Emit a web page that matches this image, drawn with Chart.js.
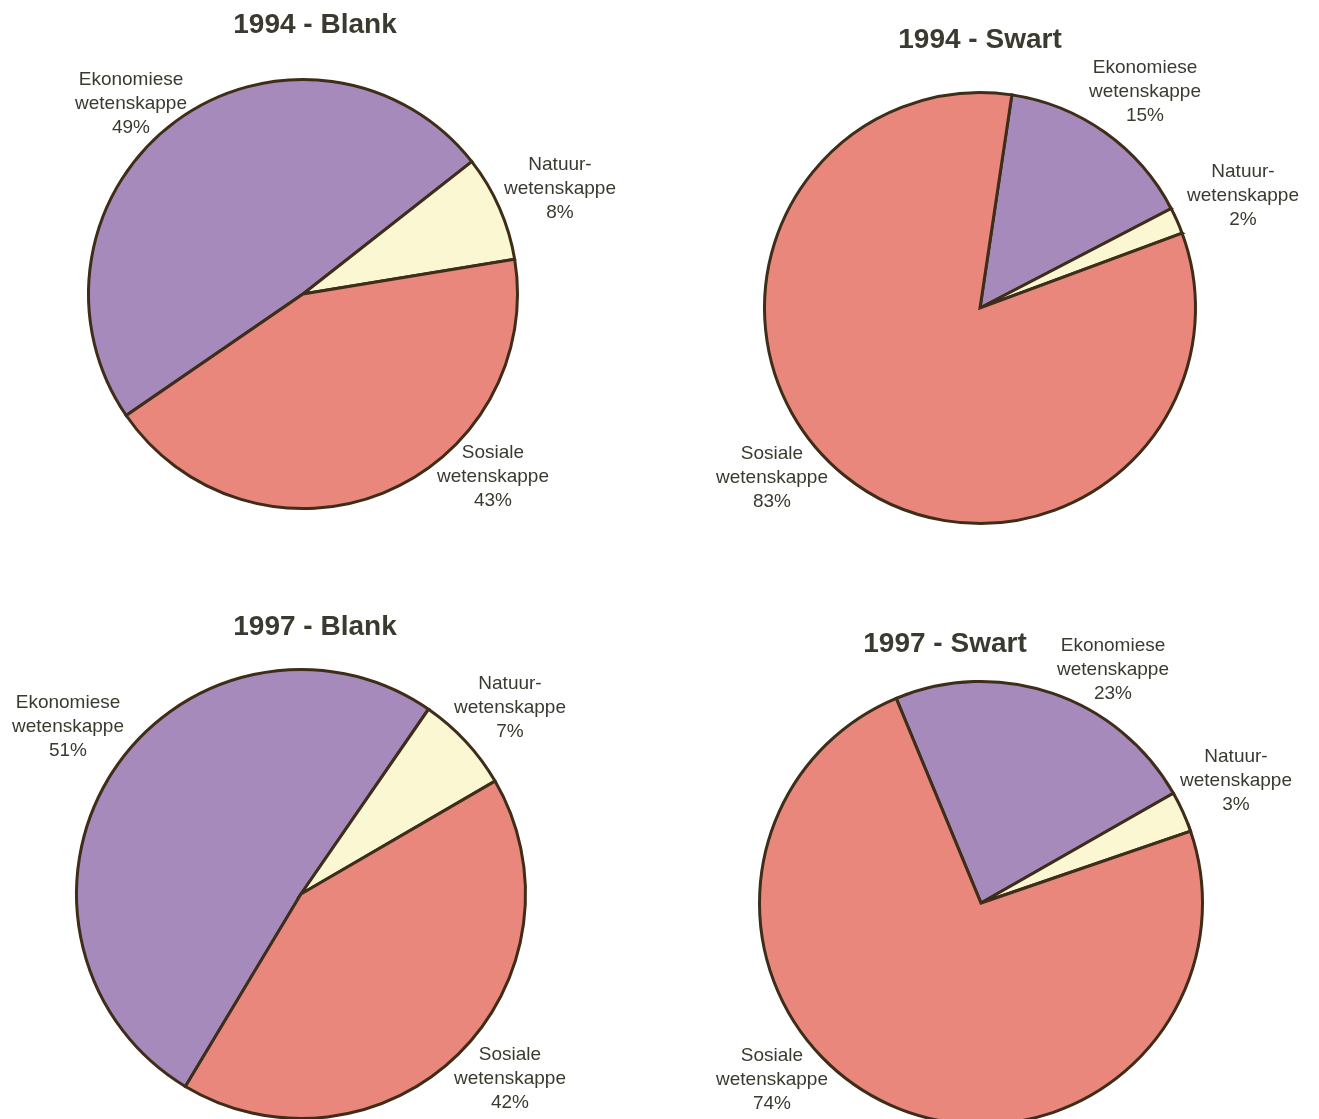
<!DOCTYPE html>
<html>
<head>
<meta charset="utf-8">
<script src="https://cdn.jsdelivr.net/npm/chart.js@4.4.1/dist/chart.umd.min.js"></script>
<style>
  html, body { margin: 0; padding: 0; background: #ffffff; overflow: hidden; }
  #page { position: relative; width: 1319px; height: 1119px; overflow: hidden; }
  #page canvas { position: absolute; left: 0; top: 0; }
</style>
</head>
<body>
<div id="page">
  <canvas id="c0" width="1319" height="1200"></canvas>
  <canvas id="c1" width="1319" height="1200"></canvas>
  <canvas id="c2" width="1319" height="1200"></canvas>
  <canvas id="c3" width="1319" height="1200"></canvas>
</div>
<script>
// Faculty groups (label lines) and their shares, in percent
const categories = [
  ['Ekonomiese', 'wetenskappe'],
  ['Natuur-', 'wetenskappe'],
  ['Sosiale', 'wetenskappe']
];
const titles = ['1994 - Blank', '1994 - Swart', '1997 - Blank', '1997 - Swart'];
const blank1994 = [49, 8, 43];
const swart1994 = [15, 2, 83];
const blank1997 = [51, 7, 42];
const swart1997 = [23, 3, 74];

// Slice colours, in category order
const sliceColors = ['#a68abc', '#fbf7d3', '#e9877d'];
const edgeColor = '#3e2d18';
const textColor = '#3b3a30';

// Page layout of each pie: centre, radius, start rotation, and where the
// title and the slice labels sit relative to the pie centre
const panels = [
  { title: titles[0], values: blank1994, cx: 303, cy: 294, r: 216, rotation: 235.5,
    titleAt: [12, -261], labelAt: [[-172, -190], [257, -105], [190, 183]] },
  { title: titles[1], values: swart1994, cx: 980, cy: 308, r: 217, rotation: 8.5,
    titleAt: [0, -260], labelAt: [[165, -216], [263, -112], [-208, 170]] },
  { title: titles[2], values: blank1997, cx: 301, cy: 894, r: 226, rotation: 211,
    titleAt: [14, -259], labelAt: [[-233, -167], [209, -186], [209, 185]] },
  { title: titles[3], values: swart1997, cx: 981, cy: 903, r: 223, rotation: -22.5,
    titleAt: [-36, -251], labelAt: [[132, -233], [255, -122], [-209, 177]] }
];

const CANVAS_W = 1319, CANVAS_H = 1200;

// Draws the title and the outside slice labels around each pie
const pieText = {
  id: 'pieText',
  afterDraw(chart, args, opts) {
    const p = opts.panel;
    const arcs = chart.getDatasetMeta(0).data;
    if (!arcs.length) return;
    const cx = arcs[0].x, cy = arcs[0].y;
    const ctx = chart.ctx;
    ctx.save();
    ctx.fillStyle = textColor;
    ctx.textAlign = 'center';

    ctx.font = 'bold 28px "Liberation Sans", Arial, sans-serif';
    ctx.textBaseline = 'alphabetic';
    ctx.fillText(p.title, cx + p.titleAt[0], cy + p.titleAt[1]);

    ctx.font = '19px "Liberation Sans", Arial, sans-serif';
    ctx.textBaseline = 'middle';
    const lineH = 24;
    const data = chart.data.datasets[0].data;
    chart.data.labels.forEach((lines, i) => {
      const rows = lines.concat([data[i] + '%']);
      const x = cx + p.labelAt[i][0];
      const y0 = cy + p.labelAt[i][1] - lineH * (rows.length - 1) / 2;
      rows.forEach((t, k) => ctx.fillText(t, x, y0 + k * lineH));
    });
    ctx.restore();
  }
};

panels.forEach((p, idx) => {
  const border = 3;
  new Chart(document.getElementById('c' + idx), {
    type: 'pie',
    data: {
      labels: categories,
      datasets: [{
        data: p.values,
        backgroundColor: sliceColors,
        borderColor: edgeColor,
        borderWidth: border,
        borderJoinStyle: 'miter',
        hoverOffset: 0
      }]
    },
    options: {
      responsive: false,
      animation: false,
      rotation: p.rotation,
      layout: {
        padding: {
          left: p.cx - p.r,
          right: CANVAS_W - (p.cx + p.r),
          top: p.cy - p.r,
          bottom: CANVAS_H - (p.cy + p.r)
        }
      },
      plugins: {
        legend: { display: false },
        tooltip: { enabled: false },
        title: { display: false },
        pieText: { panel: p }
      },
      events: []
    },
    plugins: [pieText]
  });
});
</script>
</body>
</html>
